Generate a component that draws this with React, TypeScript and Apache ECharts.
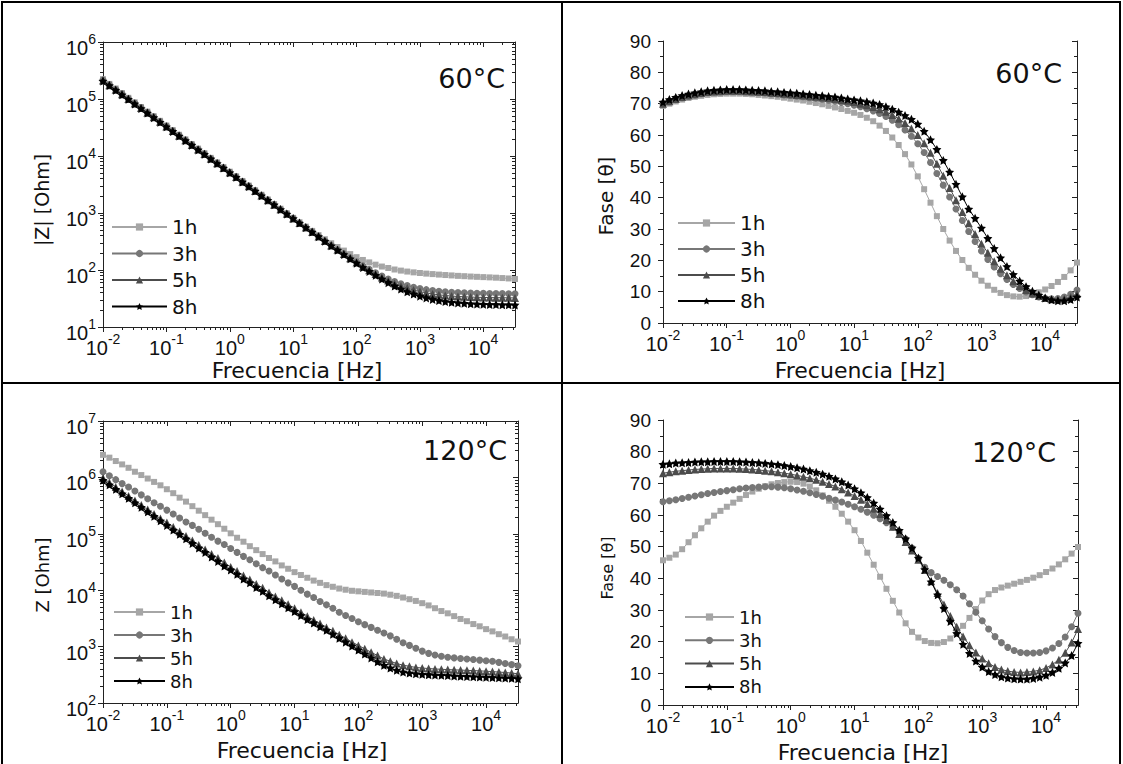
import React, { useEffect, useRef } from "react";
import * as echarts from "echarts";

// ---------- data ----------
const freqHz = [
  0.01, 0.01259, 0.01585, 0.01995, 0.02512, 0.03162, 0.03981, 0.05012, 0.0631, 0.07943,
  0.1, 0.1259, 0.1585, 0.1995, 0.2512, 0.3162, 0.3981, 0.5012, 0.631, 0.7943,
  1, 1.259, 1.585, 1.995, 2.512, 3.162, 3.981, 5.012, 6.31, 7.943,
  10, 12.59, 15.85, 19.95, 25.12, 31.62, 39.81, 50.12, 63.1, 79.43,
  100, 125.9, 158.5, 199.5, 251.2, 316.2, 398.1, 501.2, 631, 794.3,
  1000, 1259, 1585, 1995, 2512, 3162, 3981, 5012, 6310, 7943,
  10000, 12590, 15850, 19950, 25120, 31620,
];

const seriesNames = ["1h", "3h", "5h", "8h"];

// 60 °C |Z| [Ohm]
const zMag60_1h = [
  2.23e5, 1.84e5, 1.53e5, 1.27e5, 1.05e5, 8.73e4, 7.24e4, 6.01e4, 4.99e4, 4.14e4,
  3.43e4, 2.85e4, 2.36e4, 1.96e4, 1.62e4, 1.35e4, 1.12e4, 9280, 7710, 6390,
  5310, 4400, 3650, 3030, 2510, 2090, 1730, 1440, 1190, 990,
  822, 688, 577, 485, 410, 347, 295, 253, 219, 190,
  168, 150, 136, 124, 115, 108.5, 102, 97.6, 93.9, 90.9,
  88.5, 86.4, 84.8, 83.1, 81.6, 80.3, 78.9, 77.9, 76.8, 75.9,
  75.0, 74.2, 73.3, 72.2, 71.1, 69.6,
];
const zMag60_3h = [
  2.16e5, 1.79e5, 1.48e5, 1.23e5, 1.02e5, 8.49e4, 7.05e4, 5.85e4, 4.86e4, 4.03e4,
  3.34e4, 2.78e4, 2.30e4, 1.91e4, 1.59e4, 1.31e4, 1.09e4, 9060, 7520, 6240,
  5180, 4300, 3570, 2960, 2450, 2040, 1690, 1400, 1160, 968,
  805, 670, 559, 467, 390, 326, 272.5, 229, 193.5, 163,
  139, 119, 102.5, 89.1, 78.3, 69.7, 62.9, 57.4, 53.2, 49.8,
  47.3, 45.2, 43.7, 42.5, 41.6, 40.8, 40.3, 39.8, 39.5, 39.2,
  39.0, 38.8, 38.6, 38.5, 38.3, 38.2,
];
const zMag60_5h = [
  2.12e5, 1.75e5, 1.46e5, 1.21e5, 1.0e5, 8.35e4, 6.93e4, 5.75e4, 4.78e4, 3.97e4,
  3.29e4, 2.74e4, 2.27e4, 1.88e4, 1.56e4, 1.3e4, 1.08e4, 8960, 7450, 6180,
  5140, 4270, 3540, 2940, 2440, 2030, 1680, 1400, 1160, 966,
  803, 668, 557, 464, 388, 324, 270, 226, 191, 160,
  136, 115.5, 98.9, 85.3, 74.2, 65.4, 58.2, 52.5, 48.1, 44.5,
  41.8, 39.6, 38.0, 36.7, 35.7, 34.9, 34.3, 33.9, 33.5, 33.2,
  33.0, 32.8, 32.7, 32.6, 32.5, 32.4,
];
const zMag60_8h = [
  2.07e5, 1.72e5, 1.43e5, 1.19e5, 9.85e4, 8.2e4, 6.81e4, 5.66e4, 4.71e4, 3.91e4,
  3.25e4, 2.7e4, 2.24e4, 1.86e4, 1.55e4, 1.28e4, 1.07e4, 8890, 7390, 6140,
  5100, 4240, 3510, 2920, 2420, 2010, 1670, 1390, 1150, 960,
  801, 666, 554, 462, 385, 321, 267, 223, 187, 157,
  132, 111, 94.5, 80.6, 69.2, 60.0, 52.5, 46.4, 41.6, 37.8,
  34.8, 32.4, 30.5, 29.1, 28.0, 27.1, 26.5, 26.0, 25.6, 25.3,
  25.0, 24.8, 24.7, 24.6, 24.5, 24.4,
];

// 60 °C phase [deg]
const phase60_1h = [
  69.3, 70.0, 70.7, 71.3, 71.8, 72.2, 72.5, 72.8, 73.0, 73.1,
  73.2, 73.2, 73.2, 73.1, 73.0, 72.8, 72.6, 72.4, 72.2, 71.9,
  71.6, 71.3, 71.0, 70.6, 70.2, 69.8, 69.3, 68.8, 68.3, 67.7,
  67.1, 66.4, 65.5, 64.4, 63.0, 61.3, 59.2, 56.8, 53.9, 50.6,
  46.8, 42.7, 38.4, 34.1, 30.0, 26.3, 23.0, 20.1, 17.6, 15.4,
  13.5, 11.9, 10.6, 9.6, 8.9, 8.5, 8.4, 8.6, 9.1, 9.8,
  10.7, 11.8, 13.1, 14.7, 16.8, 19.3,
];
const phase60_3h = [
  69.8, 70.6, 71.3, 71.9, 72.4, 72.8, 73.2, 73.5, 73.7, 73.8,
  73.9, 73.9, 73.9, 73.8, 73.7, 73.6, 73.4, 73.2, 73.0, 72.8,
  72.6, 72.4, 72.2, 71.9, 71.7, 71.4, 71.1, 70.8, 70.4, 70.0,
  69.5, 69.0, 68.4, 67.7, 66.9, 65.9, 64.7, 63.3, 61.6, 59.6,
  57.2, 54.4, 51.2, 47.7, 44.0, 40.2, 36.4, 32.7, 29.2, 26.0,
  23.0, 20.3, 17.9, 15.7, 13.9, 12.3, 11.0, 9.9, 9.0, 8.3,
  7.9, 7.7, 7.8, 8.3, 9.2, 10.5,
];
const phase60_5h = [
  70.0, 70.8, 71.5, 72.1, 72.6, 73.0, 73.4, 73.7, 73.9, 74.0,
  74.1, 74.1, 74.1, 74.0, 73.9, 73.8, 73.7, 73.5, 73.4, 73.2,
  73.0, 72.8, 72.6, 72.4, 72.2, 72.0, 71.8, 71.5, 71.2, 70.9,
  70.5, 70.0, 69.5, 68.9, 68.2, 67.4, 66.4, 65.2, 63.8, 62.1,
  60.0, 57.4, 54.3, 50.8, 47.0, 43.1, 39.2, 35.4, 31.8, 28.4,
  25.3, 22.4, 19.7, 17.3, 15.2, 13.3, 11.8, 10.5, 9.4, 8.6,
  8.0, 7.6, 7.5, 7.7, 8.3, 9.3,
];
const phase60_8h = [
  70.5, 71.3, 72.0, 72.6, 73.1, 73.5, 73.8, 74.1, 74.3, 74.4,
  74.5, 74.5, 74.5, 74.4, 74.3, 74.2, 74.1, 73.9, 73.8, 73.6,
  73.5, 73.3, 73.1, 72.9, 72.7, 72.5, 72.3, 72.1, 71.8, 71.5,
  71.2, 70.9, 70.6, 70.2, 69.7, 69.0, 68.2, 67.3, 66.2, 65.0,
  63.5, 61.2, 58.5, 55.4, 51.9, 48.2, 44.3, 40.3, 36.4, 33.4,
  30.3, 27.0, 23.8, 20.8, 18.0, 15.5, 13.4, 11.6, 10.1, 8.9,
  8.0, 7.4, 7.1, 7.1, 7.5, 8.3,
];

// 120 °C |Z| [Ohm]
const zMag120_1h = [
  2.51e6, 2.24e6, 1.95e6, 1.7e6, 1.48e6, 1.26e6, 1.1e6, 9.55e5, 8.32e5, 7.24e5,
  6.17e5, 5.25e5, 4.37e5, 3.72e5, 3.09e5, 2.57e5, 2.14e5, 1.78e5, 1.48e5, 1.23e5,
  1.02e5, 8.51e4, 7.24e4, 6.03e4, 5.13e4, 4.37e4, 3.72e4, 3.24e4, 2.75e4, 2.4e4,
  2.09e4, 1.86e4, 1.66e4, 1.48e4, 1.35e4, 1.23e4, 1.15e4, 1.07e4, 1.02e4, 9770,
  9550, 9330, 9120, 8910, 8710, 8320, 7940, 7410, 6920, 6460,
  5890, 5370, 4790, 4270, 3890, 3470, 3090, 2820, 2510, 2290,
  2040, 1860, 1660, 1510, 1350, 1230,
];
const zMag120_3h = [
  1.26e6, 1.07e6, 9.12e5, 7.76e5, 6.76e5, 5.75e5, 4.9e5, 4.17e5, 3.55e5, 3.09e5,
  2.63e5, 2.24e5, 1.91e5, 1.62e5, 1.41e5, 1.2e5, 1.02e5, 8.71e4, 7.41e4, 6.46e4,
  5.5e4, 4.68e4, 3.98e4, 3.47e4, 2.95e4, 2.51e4, 2.19e4, 1.86e4, 1.58e4, 1.35e4,
  1.17e4, 1.0e4, 8510, 7410, 6310, 5500, 4790, 4070, 3550, 3160,
  2750, 2450, 2190, 1950, 1740, 1550, 1350, 1170, 1050, 933,
  832, 759, 708, 676, 646, 631, 617, 603, 589, 575,
  562, 550, 525, 501, 479, 457,
];
const zMag120_5h = [
  9.77e5, 8.13e5, 6.76e5, 5.62e5, 4.68e5, 3.89e5, 3.24e5, 2.69e5, 2.24e5, 1.86e5,
  1.58e5, 1.32e5, 1.1e5, 9.12e4, 7.59e4, 6.31e4, 5.25e4, 4.37e4, 3.72e4, 3.09e4,
  2.57e4, 2.19e4, 1.82e4, 1.55e4, 1.29e4, 1.1e4, 9120, 7760, 6610, 5620,
  4790, 4070, 3470, 2950, 2570, 2190, 1910, 1620, 1410, 1200,
  1050, 912, 794, 692, 603, 550, 501, 468, 447, 427,
  417, 408, 401, 396, 391, 387, 383, 379, 375, 371,
  366, 360, 354, 347, 339, 331,
];
const zMag120_8h = [
  8.91e5, 7.41e5, 6.17e5, 5.13e5, 4.27e5, 3.55e5, 2.95e5, 2.45e5, 2.04e5, 1.7e5,
  1.41e5, 1.17e5, 9.77e4, 8.13e4, 6.76e4, 5.62e4, 4.68e4, 3.89e4, 3.24e4, 2.69e4,
  2.29e4, 1.91e4, 1.58e4, 1.35e4, 1.12e4, 9550, 7940, 6760, 5750, 4900,
  4170, 3550, 3020, 2630, 2240, 1950, 1660, 1410, 1200, 1020,
  871, 741, 631, 537, 468, 417, 380, 355, 339, 331,
  324, 318, 313, 309, 306, 302, 299, 296, 293, 290,
  287, 284, 281, 278, 274, 270,
];

// 120 °C phase [deg]
const phase120_1h = [
  45.7, 46.5, 47.5, 49.2, 51.4, 53.6, 55.8, 57.9, 59.8, 61.3,
  62.6, 63.9, 65.1, 66.3, 67.4, 68.3, 69.1, 69.7, 70.1, 70.4,
  70.5, 70.4, 69.9, 69.0, 67.8, 66.2, 64.5, 62.6, 60.4, 57.9,
  55.2, 51.8, 48.1, 44.3, 40.5, 36.7, 32.9, 29.2, 25.8, 23.1,
  21.3, 20.2, 19.6, 19.5, 19.9, 21.0, 22.8, 25.0, 27.5, 30.3,
  33.0, 35.0, 36.3, 37.1, 37.7, 38.3, 38.9, 39.5, 40.2, 41.0,
  42.0, 43.1, 44.4, 46.0, 47.8, 49.9,
];
const phase120_3h = [
  64.2, 64.5, 64.8, 65.2, 65.6, 66.0, 66.4, 66.8, 67.1, 67.4,
  67.7, 68.0, 68.3, 68.5, 68.7, 68.8, 68.9, 68.9, 68.8, 68.6,
  68.3, 67.9, 67.5, 67.0, 66.5, 65.9, 65.3, 64.7, 64.1, 63.4,
  62.6, 61.8, 60.9, 59.9, 58.8, 57.6, 56.2, 54.6, 52.4, 49.6,
  46.3, 43.5, 41.8, 40.6, 39.4, 38.0, 36.4, 34.4, 32.0, 29.3,
  26.6, 24.0, 21.6, 19.7, 18.2, 17.2, 16.6, 16.4, 16.4, 16.6,
  17.1, 18.0, 19.4, 21.5, 24.7, 29.0,
];
const phase120_5h = [
  73.2, 73.5, 73.8, 74.0, 74.2, 74.4, 74.5, 74.6, 74.7, 74.7,
  74.7, 74.7, 74.6, 74.5, 74.4, 74.2, 74.0, 73.8, 73.5, 73.2,
  72.9, 72.5, 72.1, 71.6, 71.1, 70.5, 69.8, 69.0, 68.1, 67.1,
  66.0, 64.8, 63.5, 62.0, 60.3, 58.4, 56.3, 54.0, 51.5, 48.8,
  45.9, 42.6, 39.1, 35.4, 31.7, 28.1, 24.7, 21.6, 18.9, 16.6,
  14.7, 13.2, 12.0, 11.2, 10.7, 10.4, 10.3, 10.4, 10.6, 11.0,
  11.7, 12.8, 14.3, 16.5, 19.7, 24.0,
];
const phase120_8h = [
  76.0, 76.2, 76.4, 76.5, 76.6, 76.7, 76.8, 76.8, 76.9, 76.9,
  76.9, 76.9, 76.8, 76.7, 76.6, 76.5, 76.3, 76.1, 75.9, 75.6,
  75.3, 74.9, 74.5, 74.0, 73.5, 72.9, 72.2, 71.4, 70.5, 69.5,
  68.3, 67.0, 65.5, 63.8, 61.9, 59.8, 57.6, 55.2, 52.5, 49.6,
  46.4, 42.8, 38.9, 34.8, 30.5, 26.4, 22.6, 19.2, 16.3, 13.9,
  12.0, 10.6, 9.6, 8.9, 8.5, 8.3, 8.2, 8.2, 8.4, 8.8,
  9.4, 10.3, 11.6, 13.3, 15.6, 19.5,
];

// tick values
const freqDecades = [0.01, 0.1, 1, 10, 100, 1000, 10000];
const z60Decades = [10, 100, 1000, 10000, 100000, 1000000];
const z120Decades = [100, 1000, 10000, 100000, 1000000, 10000000];
const phaseTicks = [0, 10, 20, 30, 40, 50, 60, 70, 80, 90];
const phaseMinorTicks = [5, 15, 25, 35, 45, 55, 65, 75, 85];

// ---------- styling ----------
const X_MIN = 0.01;
const X_MAX = 31623;
const AX = "#222";
const LABEL_FONT = "Liberation Sans";
const TITLE_FONT = "DejaVu Sans";
const COLORS = ["#a6a6a6", "#777777", "#4c4c4c", "#000000"];
const STAR =
  "path://M0,-10L2.94,-4.05L9.51,-3.09L4.76,1.55L5.88,8.09L0,5L-5.88,8.09L-4.76,1.55L-9.51,-3.09L-2.94,-4.05Z";
const SYMBOLS = ["rect", "circle", "triangle", STAR];
const SYMBOL_SIZES = [6, 7, 8, 9];

function minorLog(lo: number, hi: number, maxV: number): number[] {
  const out: number[] = [];
  for (let k = lo; k <= hi; k++) {
    for (let m = 2; m <= 9; m++) {
      const v = Number((m * Math.pow(10, k)).toPrecision(3));
      if (v <= maxV) out.push(v);
    }
  }
  return out;
}
const freqMinor = minorLog(-2, 4, X_MAX);
const z60Minor = minorLog(1, 5, 1e6);
const z120Minor = minorLog(2, 6, 1e7);

const RICH = {
  b: { fontFamily: LABEL_FONT, fontSize: 20, color: "#111", verticalAlign: "bottom", lineHeight: 26 },
  s: { fontFamily: LABEL_FONT, fontSize: 14, color: "#111", verticalAlign: "top", lineHeight: 26 },
};
const powLabel = (v: number) => `{b|10}{s|${Math.round(Math.log10(v))}}`;

type Panel = {
  grid: { left: number; top: number; width: number; height: number };
  yLog: boolean;
  yMin: number;
  yMax: number;
  yMajor: number[];
  yMinor: number[];
  data: number[][];
  legend: { left: number; top: number; gap: number; font: number; lh: number; width: number };
  temp: string;
  tempPos: [number, number];
  yTitle: string;
  yTitlePos: [number, number];
  yTitleSize: number;
  xTitlePos: [number, number];
  xTitleSize: number;
};

const panels: Panel[] = [
  {
    grid: { left: 103, top: 42, width: 412, height: 285 },
    yLog: true, yMin: 10, yMax: 1e6, yMajor: z60Decades, yMinor: z60Minor,
    data: [zMag60_1h, zMag60_3h, zMag60_5h, zMag60_8h],
    legend: { left: 111, top: 217, gap: 6.5, font: 20, lh: 20, width: 55 },
    temp: "60°C", tempPos: [505, 78],
    yTitle: "|Z| [Ohm]", yTitlePos: [42, 200], yTitleSize: 19,
    xTitlePos: [297, 370], xTitleSize: 22,
  },
  {
    grid: { left: 663, top: 41, width: 414, height: 282 },
    yLog: false, yMin: 0, yMax: 90, yMajor: phaseTicks, yMinor: phaseMinorTicks,
    data: [phase60_1h, phase60_3h, phase60_5h, phase60_8h],
    legend: { left: 677, top: 213, gap: 6, font: 20, lh: 20, width: 57 },
    temp: "60°C", tempPos: [1062, 73],
    yTitle: "Fase [θ]", yTitlePos: [606, 196], yTitleSize: 20,
    xTitlePos: [860, 370], xTitleSize: 22,
  },
  {
    grid: { left: 103, top: 421, width: 415, height: 282 },
    yLog: true, yMin: 100, yMax: 1e7, yMajor: z120Decades, yMinor: z120Minor,
    data: [zMag120_1h, zMag120_3h, zMag120_5h, zMag120_8h],
    legend: { left: 113, top: 603, gap: 5, font: 18, lh: 18, width: 51 },
    temp: "120°C", tempPos: [507, 450],
    yTitle: "Z [Ohm]", yTitlePos: [42, 575], yTitleSize: 18,
    xTitlePos: [302, 750], xTitleSize: 22,
  },
  {
    grid: { left: 663, top: 420, width: 415, height: 285 },
    yLog: false, yMin: 0, yMax: 90, yMajor: phaseTicks, yMinor: phaseMinorTicks,
    data: [phase120_1h, phase120_3h, phase120_5h, phase120_8h],
    legend: { left: 684, top: 608, gap: 5.3, font: 18, lh: 18, width: 49 },
    temp: "120°C", tempPos: [1056, 452],
    yTitle: "Fase [θ]", yTitlePos: [607, 568], yTitleSize: 16,
    xTitlePos: [863, 752], xTitleSize: 22,
  },
];

function buildOption() {
  const grid: any[] = [];
  const xAxis: any[] = [];
  const yAxis: any[] = [];
  const series: any[] = [];
  const legend: any[] = [];
  const graphic: any[] = [];

  panels.forEach((p, gi) => {
    grid.push({ ...p.grid, show: false });
    const xc = {
      gridIndex: gi, type: "log", logBase: 10, min: X_MIN, max: X_MAX,
      splitLine: { show: false }, silent: true,
    };
    xAxis.push(
      {
        ...xc, position: "bottom",
        axisLine: { show: true, lineStyle: { color: AX, width: 1 } },
        axisTick: { show: true, inside: false, length: 5, customValues: freqDecades, lineStyle: { color: AX } },
        axisLabel: { show: true, customValues: freqDecades, formatter: powLabel, rich: RICH, margin: 5 },
      },
      {
        ...xc, position: "bottom",
        axisLine: { show: false },
        axisTick: { show: true, inside: false, length: 3, customValues: freqMinor, lineStyle: { color: AX } },
        axisLabel: { show: false },
      },
      {
        ...xc, position: "top",
        axisLine: { show: true, lineStyle: { color: AX, width: 1 } },
        axisTick: { show: true, inside: true, length: 5, customValues: freqDecades, lineStyle: { color: AX } },
        axisLabel: { show: false },
      },
      {
        ...xc, position: "top",
        axisLine: { show: false },
        axisTick: { show: true, inside: true, length: 3, customValues: freqMinor, lineStyle: { color: AX } },
        axisLabel: { show: false },
      }
    );

    const yc: any = p.yLog
      ? { gridIndex: gi, type: "log", logBase: 10, min: p.yMin, max: p.yMax, splitLine: { show: false }, silent: true }
      : { gridIndex: gi, type: "value", min: p.yMin, max: p.yMax, interval: 10, splitLine: { show: false }, silent: true };
    const yLabel = p.yLog
      ? { show: true, customValues: p.yMajor, formatter: powLabel, rich: RICH, margin: 7, padding: [6, 0, 0, 0] }
      : { show: true, customValues: p.yMajor, fontFamily: LABEL_FONT, fontSize: 19, color: "#111", margin: 12 };
    yAxis.push(
      {
        ...yc, position: "left",
        axisLine: { show: true, lineStyle: { color: AX, width: 1 } },
        axisTick: { show: true, inside: false, length: 5, customValues: p.yMajor, lineStyle: { color: AX } },
        axisLabel: yLabel,
      },
      {
        ...yc, position: "left",
        axisLine: { show: false },
        axisTick: { show: true, inside: false, length: 3, customValues: p.yMinor, lineStyle: { color: AX } },
        axisLabel: { show: false },
      },
      {
        ...yc, position: "right",
        axisLine: { show: true, lineStyle: { color: AX, width: 1 } },
        axisTick: { show: true, inside: true, length: 5, customValues: p.yMajor, lineStyle: { color: AX } },
        axisLabel: { show: false },
      },
      {
        ...yc, position: "right",
        axisLine: { show: false },
        axisTick: { show: true, inside: true, length: 3, customValues: p.yMinor, lineStyle: { color: AX } },
        axisLabel: { show: false },
      }
    );

    p.data.forEach((vals, j) => {
      series.push({
        type: "line",
        name: seriesNames[j],
        xAxisIndex: gi * 4,
        yAxisIndex: gi * 4,
        data: freqHz.map((f, i) => [f, vals[i]]),
        symbol: SYMBOLS[j],
        symbolSize: SYMBOL_SIZES[j],
        showSymbol: true,
        showAllSymbol: true,
        itemStyle: { color: COLORS[j] },
        lineStyle: { color: COLORS[j], width: 1 },
        z: 2 + j,
      });
    });

    legend.push({
      data: seriesNames,
      orient: "vertical",
      left: p.legend.left,
      top: p.legend.top,
      itemWidth: p.legend.width,
      itemHeight: 9,
      itemGap: p.legend.gap,
      selectedMode: false,
      padding: 0,
      textStyle: { fontFamily: TITLE_FONT, fontSize: p.legend.font, color: "#111", lineHeight: p.legend.lh },
    });

    graphic.push({
      type: "text",
      x: p.tempPos[0],
      y: p.tempPos[1],
      style: { text: p.temp, fontFamily: TITLE_FONT, fontSize: 27, fill: "#111", align: "right", verticalAlign: "middle" },
    });
    graphic.push({
      type: "text",
      x: p.xTitlePos[0],
      y: p.xTitlePos[1],
      style: { text: "Frecuencia [Hz]", fontFamily: TITLE_FONT, fontSize: p.xTitleSize, fill: "#111", align: "center", verticalAlign: "middle" },
    });
    graphic.push({
      type: "text",
      x: p.yTitlePos[0],
      y: p.yTitlePos[1],
      rotation: Math.PI / 2,
      style: { text: p.yTitle, fontFamily: TITLE_FONT, fontSize: p.yTitleSize, fill: "#111", align: "center", verticalAlign: "middle" },
    });
  });

  // table borders
  const L = (x1: number, y1: number, x2: number, y2: number) => ({
    type: "line",
    shape: { x1, y1, x2, y2 },
    style: { stroke: "#000", lineWidth: 2 },
    silent: true,
  });
  graphic.push(
    L(2, 2, 1121, 2),
    L(2, 1, 2, 764),
    L(1120, 1, 1120, 764),
    L(562, 1, 562, 764),
    L(1, 383, 1121, 383)
  );

  return {
    animation: false,
    backgroundColor: "#ffffff",
    grid,
    xAxis,
    yAxis,
    series,
    legend,
    graphic,
  };
}

export default function App() {
  const ref = useRef<HTMLDivElement>(null);
  useEffect(() => {
    if (!ref.current) return;
    const chart = echarts.init(ref.current, undefined, { renderer: "svg" });
    chart.setOption(buildOption() as any);
    return () => chart.dispose();
  }, []);
  return (
    <div
      ref={ref}
      style={{ position: "absolute", left: 0, top: 0, width: 1123, height: 764, background: "#fff" }}
    />
  );
}
